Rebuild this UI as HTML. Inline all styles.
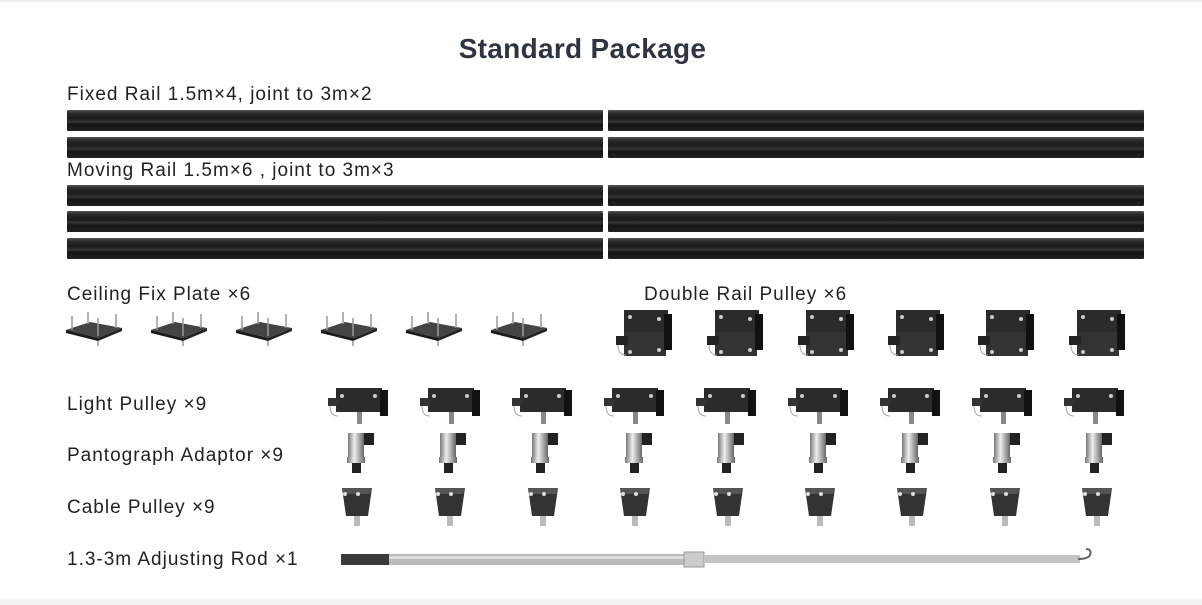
<!DOCTYPE html>
<html><head><meta charset="utf-8"><style>
html,body{margin:0;padding:0;background:#fff;}
body{width:1202px;height:605px;position:relative;overflow:hidden;font-family:"Liberation Sans",sans-serif;}
.t{position:absolute;color:#222;font-size:19px;white-space:nowrap;letter-spacing:1px;}
</style></head><body>
<div style="position:absolute;left:0;top:0;width:1202px;height:2px;background:#eee"></div>
<div style="position:absolute;left:0;top:599px;width:1202px;height:6px;background:#f2f2f2"></div>
<div class="t" style="left:0;width:1165px;text-align:center;top:33px;font-size:28px;font-weight:bold;color:#2e3440;letter-spacing:0.3px">Standard Package</div>
<div class="t" style="left:67px;top:84px">Fixed Rail 1.5m×4, joint to 3m×2</div>
<div class="t" style="left:67px;top:160px">Moving Rail 1.5m×6 , joint to 3m×3</div>
<div class="t" style="left:67px;top:284px">Ceiling Fix Plate ×6</div>
<div class="t" style="left:644px;top:284px">Double Rail Pulley ×6</div>
<div class="t" style="left:67px;top:394px">Light Pulley ×9</div>
<div class="t" style="left:67px;top:445px">Pantograph Adaptor ×9</div>
<div class="t" style="left:67px;top:497px">Cable Pulley ×9</div>
<div class="t" style="left:67px;top:549px">1.3-3m Adjusting Rod ×1</div>
<svg width="1202" height="605" style="position:absolute;left:0;top:0">
<defs>
<linearGradient id="rg" x1="0" y1="0" x2="0" y2="1">
<stop offset="0" stop-color="#555"/><stop offset="0.15" stop-color="#2a2a2a"/><stop offset="0.4" stop-color="#1a1a1a"/><stop offset="0.55" stop-color="#333"/><stop offset="0.7" stop-color="#151515"/><stop offset="1" stop-color="#222"/></linearGradient>
<g id="rail"><rect x="0" y="0" width="536" height="21" fill="url(#rg)" rx="1"/></g>
<g id="plate"><polygon points="-28,8 -4,0 28,6 4,16" fill="#444"/><polygon points="-28,8 4,16 4,19 -28,11" fill="#1a1a1a"/><polygon points="4,16 28,6 28,9 4,19" fill="#222"/>
<g stroke="#999" stroke-width="1.5"><line x1="-22" y1="8" x2="-22" y2="-6"/><line x1="-6" y1="2" x2="-6" y2="-10"/><line x1="22" y1="6" x2="22" y2="-8"/><line x1="4" y1="14" x2="4" y2="-4"/><line x1="4" y1="19" x2="4" y2="24"/></g></g>
<g id="dbl"><rect x="-22" y="-22" width="44" height="24" fill="#2b2b2b"/><rect x="-22" y="0" width="42" height="24" fill="#333"/><rect x="18" y="-18" width="8" height="36" fill="#111"/><rect x="-30" y="4" width="12" height="9" fill="#222"/>
<circle cx="-16" cy="-15" r="2" fill="#ccc"/><circle cx="13" cy="-13" r="2" fill="#ccc"/><circle cx="13" cy="18" r="2" fill="#ccc"/><circle cx="-16" cy="20" r="2" fill="#ccc"/><path d="M-28 13 q0 10 8 10" fill="none" stroke="#aaa"/></g>
<g id="lp"><rect x="-24" y="-14" width="46" height="24" fill="#2b2b2b"/><rect x="20" y="-12" width="8" height="26" fill="#111"/><rect x="-32" y="-4" width="10" height="8" fill="#333"/>
<circle cx="-18" cy="-6" r="2" fill="#ccc"/><circle cx="15" cy="-6" r="2" fill="#ccc"/><path d="M-30 4 q0 10 8 10" fill="none" stroke="#aaa"/><rect x="-3" y="10" width="5" height="12" fill="#888"/></g>
<linearGradient id="mg" x1="0" y1="0" x2="1" y2="0"><stop offset="0" stop-color="#777"/><stop offset="0.4" stop-color="#eee"/><stop offset="1" stop-color="#666"/></linearGradient>
<g id="pa"><rect x="-10" y="-20" width="16" height="28" fill="url(#mg)"/><rect x="-11" y="4" width="18" height="6" fill="url(#mg)"/><rect x="-6" y="10" width="9" height="10" fill="#222"/><rect x="6" y="-20" width="10" height="12" fill="#222"/></g>
<g id="cp"><polygon points="-16,-18 14,-18 10,10 -12,10" fill="#333"/><polygon points="-16,-18 14,-18 12,-12 -14,-12" fill="#555"/><circle cx="-13" cy="-12" r="2" fill="#ddd"/><circle cx="0" cy="-12" r="2" fill="#ddd"/><rect x="-4" y="10" width="6" height="10" fill="#bbb"/></g>
</defs>
<g>
<use href="#rail" x="67" y="110"/><use href="#rail" x="608" y="110"/>
<use href="#rail" x="67" y="137"/><use href="#rail" x="608" y="137"/>
<use href="#rail" x="67" y="185"/><use href="#rail" x="608" y="185"/>
<use href="#rail" x="67" y="211"/><use href="#rail" x="608" y="211"/>
<use href="#rail" x="67" y="238"/><use href="#rail" x="608" y="238"/>
</g>
<g>
<use href="#plate" x="94" y="322"/><use href="#plate" x="179" y="322"/><use href="#plate" x="264" y="322"/><use href="#plate" x="349" y="322"/><use href="#plate" x="434" y="322"/><use href="#plate" x="519" y="322"/>
</g>
<g>
<use href="#dbl" x="646" y="332"/><use href="#dbl" x="737" y="332"/><use href="#dbl" x="828" y="332"/><use href="#dbl" x="918" y="332"/><use href="#dbl" x="1008" y="332"/><use href="#dbl" x="1099" y="332"/>
</g>
<g>
<use href="#lp" x="360" y="402"/><use href="#lp" x="452" y="402"/><use href="#lp" x="544" y="402"/><use href="#lp" x="636" y="402"/><use href="#lp" x="728" y="402"/><use href="#lp" x="820" y="402"/><use href="#lp" x="912" y="402"/><use href="#lp" x="1004" y="402"/><use href="#lp" x="1096" y="402"/>
</g>
<g>
<use href="#pa" x="358" y="453"/><use href="#pa" x="450" y="453"/><use href="#pa" x="542" y="453"/><use href="#pa" x="636" y="453"/><use href="#pa" x="728" y="453"/><use href="#pa" x="820" y="453"/><use href="#pa" x="912" y="453"/><use href="#pa" x="1004" y="453"/><use href="#pa" x="1096" y="453"/>
</g>
<g>
<use href="#cp" x="358" y="506"/><use href="#cp" x="451" y="506"/><use href="#cp" x="544" y="506"/><use href="#cp" x="636" y="506"/><use href="#cp" x="729" y="506"/><use href="#cp" x="821" y="506"/><use href="#cp" x="913" y="506"/><use href="#cp" x="1006" y="506"/><use href="#cp" x="1098" y="506"/>
</g>
<rect x="341" y="554" width="48" height="11" fill="#3a3a3a"/>
<rect x="389" y="554" width="300" height="11" fill="#bbb"/>
<rect x="389" y="556" width="300" height="3" fill="#ddd"/>
<rect x="684" y="552" width="20" height="15" fill="#ccc" stroke="#999"/>
<rect x="704" y="555" width="376" height="8" fill="#c4c4c4"/>
<path d="M1078 559 q10 0 12 -4 q2 -6 -4 -6" fill="none" stroke="#666" stroke-width="2"/>
</svg>
</body></html>
